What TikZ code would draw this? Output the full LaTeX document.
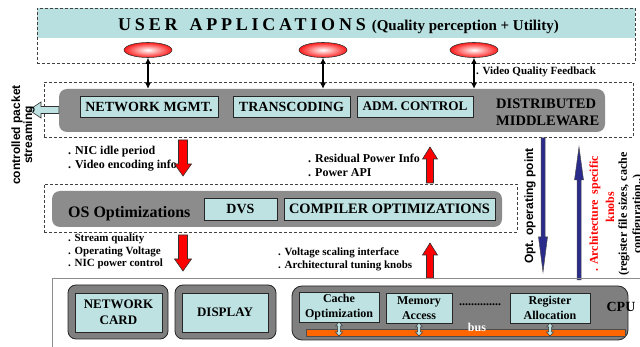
\documentclass[tikz,border=0pt]{standalone}
\usepackage{fontspec}
\setmainfont{Liberation Serif}
\setsansfont{Liberation Sans}
\usetikzlibrary{shapes.geometric,arrows.meta}
\definecolor{cyanbox}{HTML}{BEE2E2}
\definecolor{bandcol}{HTML}{B9E0E0}
\definecolor{midgray}{HTML}{8C8C8C}
\definecolor{hwgray}{HTML}{7F7F7F}
\definecolor{navy}{HTML}{2B2B8C}
\definecolor{busorange}{HTML}{FF6600}
\newcommand\vblock[7]{%
  \pgfmathsetmacro\bkh{#3>#2 ? #3-#6 : #3+#6}%
  \draw[#7] (#1-#4,#2) -- (#1-#4,\bkh) -- (#1-#5,\bkh) -- (#1,#3) -- (#1+#5,\bkh) -- (#1+#4,\bkh) -- (#1+#4,#2) -- cycle;}
\newcommand\dblsmall[3]{%
  \draw[smallarr] (#1-1.5,#2+4) -- (#1-3.5,#2+4) -- (#1,#2) -- (#1+3.5,#2+4) -- (#1+1.5,#2+4)
   -- (#1+1.5,#3-4) -- (#1+3.5,#3-4) -- (#1,#3) -- (#1-3.5,#3-4) -- (#1-1.5,#3-4) -- cycle;}
\begin{document}
\begin{tikzpicture}[x=1pt,y=-1pt,
  dashbox/.style={draw=black!75, dash pattern=on 3pt off 2pt, line width=0.5pt, inner sep=0pt},
  graybox/.style={fill=midgray, rounded corners=8pt, inner sep=0pt},
  hwbox/.style={fill=hwgray, draw=black!85, line width=0.8pt, rounded corners=8pt, inner sep=0pt},
  cbox/.style={draw=black!85, fill=cyanbox, line width=0.8pt, inner sep=0pt, align=center},
  mwfont/.style={font=\bfseries\fontsize{14}{16}\selectfont},
  hwfont/.style={font=\bfseries\fontsize{13}{16}\selectfont},
  cpufont/.style={font=\bfseries\fontsize{12}{15}\selectfont},
  bullet/.style={font=\bfseries\fontsize{12}{14}\selectfont, inner sep=0pt, anchor=base west},
  sbullet/.style={font=\bfseries\fontsize{11}{13}\selectfont, inner sep=0pt, anchor=base west},
  app/.style={ellipse, draw=black!80, line width=0.6pt, inner color=white, outer color=red!90,
    minimum width=48pt, minimum height=15pt, inner sep=0pt},
  dbl/.style={line width=1.6pt, {Latex[length=6pt,width=6pt]}-{Latex[length=6pt,width=6pt]}},
  redarr/.style={fill=red, draw=black!80, line width=0.6pt},
  bluearr/.style={fill=navy, draw=black!70, line width=0.5pt},
  smallarr/.style={fill=cyanbox, draw=black!80, line width=0.5pt}
]
\useasboundingbox (0,0) rectangle (640,347);
\fill[white] (0,0) rectangle (640,347);

% ---------------- user applications
\fill[bandcol] (37,8) rectangle (635,38);
\node[dashbox, minimum width=598pt, minimum height=55pt] (ua) at (336,35.5) {};
\node[inner sep=0pt, anchor=base west] (uatitle) at (118,30.5)
  {\bfseries{\fontsize{18}{20}\selectfont\addfontfeature{LetterSpace=21}USER\hspace{12pt}APPLICATIONS}\hspace{6pt}{\fontsize{15}{17}\selectfont(Quality perception + Utility)}};
\node[app] (e1) at (148,50) {};
\node[app] (e2) at (323,50) {};
\node[app] (e3) at (474,50) {};

% ---------------- middleware
\node[dashbox, minimum width=589pt, minimum height=55pt] (mwd) at (338.5,109.5) {};
\node[graybox, minimum width=546pt, minimum height=43pt] (mw) at (332,110.5) {};
\node[cbox, mwfont, minimum width=138pt, minimum height=21pt] (nm) at (149,106.5) {NETWORK MGMT.};
\node[cbox, mwfont, minimum width=117pt, minimum height=21pt] (tc) at (291.5,106.5) {TRANSCODING};
\node[cbox, font=\bfseries\fontsize{13.2}{16}\selectfont, minimum width=116pt, minimum height=21pt] (ac) at (415,106.5) {ADM. CONTROL};
\node[inner sep=0pt, anchor=west, align=left, font=\bfseries\fontsize{14.5}{17}\selectfont] (dm) at (496,112) {DISTRIBUTED\\MIDDLEWARE};

\draw[dbl] (e1.south) -- (e1.south |- mw.north);
\draw[dbl] (e2.south) -- (e2.south |- mw.north);
\draw[dbl] (e3.south) -- (e3.south |- mw.north);
\node[inner sep=0pt, anchor=base west, font=\bfseries\fontsize{11}{13}\selectfont] (vqf) at (476,75) {. Video Quality Feedback};

% streaming arrow (hollow, pointing left)
\coordinate (st) at (29,110);
\draw[smallarr, line width=0.6pt] (st) -- (41,102) -- (41,106.5) -- (mw.west |- 0,106.5) -- (mw.west |- 0,113.5) -- (41,113.5) -- (41,118) -- cycle;
\node[rotate=90, align=center, inner sep=0pt, font=\sffamily\bfseries\fontsize{12}{12}\selectfont] (cps) at (23,135) {controlled packet\\streaming};

% ---------------- layer texts (upper)
\node[bullet] (t1) at (68,155) {. NIC idle period};
\node[bullet] (t2) at (68,169) {. Video encoding info};
\node[bullet] (t3) at (308,163) {. Residual Power Info};
\node[bullet] (t4) at (308,177) {. Power API};
\vblock{183}{140}{176}{4.5}{8.5}{12}{redarr}
\vblock{430}{183}{147}{3.5}{7.5}{12}{redarr}

% ---------------- OS
\node[dashbox, minimum width=473pt, minimum height=48pt] (osd) at (280.5,208) {};
\node[graybox, minimum width=450pt, minimum height=36pt] (os) at (277,209) {};
\node[inner sep=0pt, anchor=base west, font=\bfseries\fontsize{16}{18}\selectfont] (ost) at (68,218) {OS Optimizations};
\node[cbox, mwfont, minimum width=73pt, minimum height=22pt] (dvs) at (240.5,209) {DVS};
\node[cbox, font=\bfseries\fontsize{14.4}{16}\selectfont, minimum width=211pt, minimum height=22pt] (co) at (389.5,209) {COMPILER OPTIMIZATIONS};

% ---------------- layer texts (lower)
\node[sbullet] (t5) at (68,242) {. Stream quality};
\node[sbullet] (t6) at (68,254.5) {. Operating Voltage};
\node[sbullet] (t7) at (68,267) {. NIC power control};
\node[sbullet] (t8) at (278,256) {. Voltage scaling interface};
\node[sbullet] (t9) at (278,269) {. Architectural tuning knobs};
\vblock{183}{235}{271}{4.5}{8.5}{12}{redarr}
\vblock{430}{278}{243}{3.5}{7.5}{12}{redarr}

% ---------------- blue arrows and right labels
\vblock{543}{138}{272}{2}{4.5}{35}{bluearr}
\vblock{579}{280}{147}{2}{4.5}{33}{bluearr}
\node[rotate=90, inner sep=0pt, font=\sffamily\bfseries\fontsize{12}{14}\selectfont] (oop) at (530,206) {Opt. operating point};
\node[rotate=90, inner sep=0pt, text=red, font=\bfseries\fontsize{12}{14}\selectfont] (ask1) at (595,214) {. Architecture\ \ specific};
\node[rotate=90, inner sep=0pt, text=red, font=\bfseries\fontsize{12}{14}\selectfont] (ask2) at (610,207) {knobs};
\node[rotate=90, inner sep=0pt, font=\bfseries\fontsize{12}{14}\selectfont] (rf1) at (624,214) {(register file sizes, cache};
\node[rotate=90, inner sep=0pt, font=\bfseries\fontsize{12}{14}\selectfont] (rf2) at (638,214) {configuration..)};

% ---------------- hardware
\draw[black!45, line width=0.6pt] (52,360) -- (52,278) -- (660,278);
\node[hwbox, minimum width=100pt, minimum height=54pt] (ncO) at (118,312) {};
\node[cbox, hwfont, minimum width=87pt, minimum height=39pt] (nc) at (118.5,312.5) {NETWORK\\CARD};
\node[hwbox, minimum width=101pt, minimum height=54pt] (dpO) at (225.5,312) {};
\node[cbox, hwfont, minimum width=86pt, minimum height=39pt] (dp) at (225,312.5) {DISPLAY};
\node[hwbox, rounded corners=10pt, minimum width=336pt, minimum height=54pt] (cpuO) at (460,313) {};
\node[cbox, cpufont, minimum width=80pt, minimum height=30pt] (cache) at (339,307) {Cache\\Optimization};
\node[cbox, cpufont, minimum width=66pt, minimum height=30pt] (mem) at (419,308) {Memory\\Access};
\node[cbox, cpufont, minimum width=80pt, minimum height=30pt] (reg) at (550,308) {Register\\Allocation};
\node[inner sep=0pt, font=\bfseries\fontsize{12}{14}\selectfont] (dots) at (480,305) {..............};
\node[inner sep=0pt, anchor=base, font=\bfseries\fontsize{14}{16}\selectfont] (cpu) at (621,312) {CPU};
\node[fill=busorange, draw=black!70, line width=0.5pt, inner sep=0pt, minimum width=319pt, minimum height=7pt] (bus) at (465.5,332.5) {};
\node[inner sep=0pt, anchor=base, text=white, font=\bfseries\fontsize{12}{14}\selectfont] (bust) at (477,331) {bus};
\dblsmall{339}{322}{336}
\dblsmall{419}{323}{336}
\dblsmall{550}{323}{336}
\end{tikzpicture}
\end{document}
